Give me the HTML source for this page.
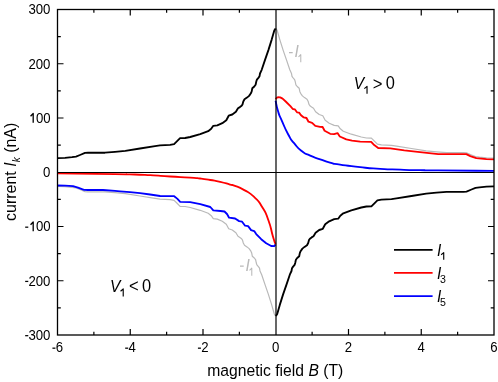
<!DOCTYPE html>
<html><head><meta charset="utf-8"><title>current vs magnetic field</title>
<style>html,body{margin:0;padding:0;background:#fff;}svg{display:block;}text{font-family:"Liberation Sans",sans-serif;fill:#000;}</style></head><body>
<svg width="498" height="382" viewBox="0 0 498 382">
<rect x="0" y="0" width="498" height="382" fill="#ffffff"/>
<g style="will-change:transform">
<path d="M275.9,28.4 L277.2,30.5 L279.8,39.6 L283.1,50.1 L286.3,59.4 L289.8,69.8 L291.5,73.5 L292.0,76.3 L292.9,77.6 L294.6,79.6 L295.2,81.5 L295.9,84.8 L297.2,86.5 L299.2,88.3 L299.8,91.4 L300.6,93.3 L302.4,95.9 L304.5,97.6 L307.0,99.3 L308.2,101.5 L309.0,104.4 L309.9,105.8 L311.6,107.1 L313.5,108.3 L315.6,111.7 L319.2,114.5 L322.8,115.7 L325.2,120.2 L329.2,123.2 L334.2,125.4 L338.2,125.8 L340.3,128.8 L343.3,131.2 L351.3,134.2 L361.3,137.0 L366.4,138.0 L371.4,138.2 L374.4,141.2 L377.4,144.1 L381.4,144.9 L391.5,145.3 L396.5,146.1 L411.5,148.5 L426.2,150.8 L436.5,151.8 L446.5,152.7 L456.5,152.7 L463.5,152.7 L466.5,152.9 L471.5,155.0 L475.5,156.6 L479.5,157.2 L486.5,157.8 L494.0,158.2" fill="none" stroke="#b9b9b9" stroke-width="1.2" stroke-linejoin="round"/>
<path d="M57.5,186.3 L65.0,186.7 L72.0,187.3 L76.0,187.9 L80.0,189.5 L85.0,191.6 L88.0,191.8 L95.0,191.8 L105.0,191.8 L115.0,192.7 L125.3,193.7 L140.0,196.0 L155.0,198.4 L160.0,199.2 L170.1,199.6 L174.1,200.4 L177.1,203.3 L180.1,206.3 L185.1,206.5 L190.2,207.5 L200.2,210.3 L208.2,213.3 L211.2,215.7 L213.3,218.7 L217.3,219.1 L222.3,221.3 L226.3,224.3 L228.7,228.8 L232.3,230.0 L235.9,232.8 L238.0,236.2 L239.9,237.4 L241.6,238.7 L242.5,240.1 L243.3,243.0 L244.5,245.2 L247.0,246.9 L249.1,248.6 L250.9,251.2 L251.7,253.1 L252.3,256.2 L254.3,258.0 L255.6,259.7 L256.3,263.0 L256.9,264.9 L258.6,266.9 L259.5,268.2 L260.0,271.0 L261.7,274.7 L265.2,285.1 L268.4,294.4 L271.7,304.9 L274.3,314.0 L275.6,316.1" fill="none" stroke="#b9b9b9" stroke-width="1.2" stroke-linejoin="round"/>
<path d="M275.6,100.7 C276.4,104.2 275.9,104.3 278.0,111.1 C280.1,117.9 278.6,113.4 282.0,121.1 C285.4,128.8 284.1,126.8 288.1,134.2 C292.1,141.6 289.4,137.5 294.1,143.2 C298.8,148.9 296.7,147.1 302.1,151.3 C307.5,155.5 304.2,153.0 310.2,155.7 C316.2,158.4 313.6,157.0 320.2,159.3 C326.8,161.6 323.4,160.8 330.0,162.6 C336.6,164.4 330.0,163.1 340.1,164.6 C350.2,166.1 346.8,165.8 360.2,167.2 C373.6,168.6 366.8,168.0 380.2,168.8 C393.6,169.6 387.0,169.2 400.3,169.7 C413.6,170.2 407.4,170.0 420.0,170.2 C432.6,170.4 413.3,170.2 438.0,170.4 C462.7,170.6 475.3,170.7 494.0,170.9" fill="none" stroke="#0000ff" stroke-width="1.85" stroke-linejoin="round"/>
<path d="M275.6,99.1 L276.8,97.8 L277.9,97.2 L280.2,97.4 L282.6,98.6 L285.7,101.5 L290.4,106.2 L292.8,109.0 L294.8,109.3 L297.0,112.3 L299.1,112.6 L301.0,115.2 L303.8,117.4 L306.5,118.0 L308.5,121.7 L312.1,122.8 L315.3,125.9 L320.0,126.9 L322.6,127.0 L324.6,130.8 L330.2,133.8 L334.1,134.1 L337.5,133.1 L339.8,136.5 L346.3,139.4 L352.0,140.6 L360.2,141.7 L371.2,141.9 L374.2,145.1 L378.2,148.0 L390.3,148.3 L404.3,150.4 L420.0,152.2 L438.2,154.1 L466.3,154.1 L470.3,156.1 L476.3,158.2 L486.4,159.2 L494.0,159.3" fill="none" stroke="#ff0000" stroke-width="1.85" stroke-linejoin="round"/>
<path d="M57.5,173.4 C76.7,173.7 91.0,173.9 115.2,174.2 C139.4,174.5 118.4,174.1 130.0,174.4 C141.6,174.7 136.7,174.5 150.1,175.2 C163.5,175.9 156.8,175.7 170.2,176.5 C183.6,177.3 180.2,177.0 190.2,177.7 C200.2,178.4 193.4,177.7 200.1,178.5 C206.8,179.3 203.6,178.9 210.3,180.0 C217.0,181.1 213.6,180.3 220.2,181.8 C226.8,183.3 225.3,183.3 230.0,184.6 C234.7,185.9 229.4,183.9 234.2,185.7 C239.0,187.5 237.6,186.3 244.3,190.1 C251.0,193.9 248.3,191.4 254.3,197.1 C260.3,202.8 257.6,199.5 262.3,207.2 C267.0,214.9 264.9,210.6 268.4,220.2 C271.9,229.8 270.4,227.8 272.8,235.9 C275.2,244.0 274.7,241.7 275.6,244.6" fill="none" stroke="#ff0000" stroke-width="1.85" stroke-linejoin="round"/>
<path d="M57.5,185.5 L65.0,185.6 L73.0,186.1 L78.0,187.6 L84.0,189.8 L88.0,190.0 L103.0,190.0 L115.0,190.8 L120.0,191.3 L130.0,192.1 L140.0,193.2 L150.1,194.5 L160.1,196.0 L174.2,196.2 L177.2,198.6 L180.2,201.8 L190.2,202.2 L200.3,204.2 L210.3,207.0 L213.3,210.4 L220.4,211.0 L224.5,211.5 L227.0,214.0 L229.1,217.7 L235.1,218.5 L239.1,221.1 L242.1,221.7 L245.1,225.7 L248.1,226.1 L251.1,230.1 L254.2,231.1 L256.2,234.1 L261.2,239.2 L266.2,243.2 L271.2,246.0 L274.2,246.2 L275.6,244.6" fill="none" stroke="#0000ff" stroke-width="1.85" stroke-linejoin="round"/>
<path d="M57.5,158.2 L65.0,157.8 L72.0,157.2 L76.0,156.6 L80.0,155.0 L85.0,152.9 L88.0,152.7 L95.0,152.7 L105.0,152.7 L115.0,151.8 L125.3,150.8 L140.0,148.5 L155.0,146.1 L160.0,145.3 L170.1,144.9 L174.1,144.1 L177.1,141.2 L180.1,138.2 L185.1,138.0 L190.2,137.0 L200.2,134.2 L208.2,131.2 L211.2,128.8 L213.3,125.8 L217.3,125.4 L222.3,123.2 L226.3,120.2 L228.7,115.7 L232.3,114.5 L235.9,111.7 L238.0,108.3 L239.9,107.1 L241.6,105.8 L242.5,104.4 L243.3,101.5 L244.5,99.3 L247.0,97.6 L249.1,95.9 L250.9,93.3 L251.7,91.4 L252.3,88.3 L254.3,86.5 L255.6,84.8 L256.3,81.5 L256.9,79.6 L258.6,77.6 L259.5,76.3 L260.0,73.5 L261.7,69.8 L265.2,59.4 L268.4,50.1 L271.7,39.6 L274.3,30.5 L275.6,28.4" fill="none" stroke="#000" stroke-width="1.85" stroke-linejoin="round"/>
<path d="M494.0,186.3 L486.5,186.7 L479.5,187.3 L475.5,187.9 L471.5,189.5 L466.5,191.6 L463.5,191.8 L456.5,191.8 L446.5,191.8 L436.5,192.7 L426.2,193.7 L411.5,196.0 L396.5,198.4 L391.5,199.2 L381.4,199.6 L377.4,200.4 L374.4,203.3 L371.4,206.3 L366.4,206.5 L361.3,207.5 L351.3,210.3 L343.3,213.3 L340.3,215.7 L338.2,218.7 L334.2,219.1 L329.2,221.3 L325.2,224.3 L322.8,228.8 L319.2,230.0 L315.6,232.8 L313.5,236.2 L311.6,237.4 L309.9,238.7 L309.0,240.1 L308.2,243.0 L307.0,245.2 L304.5,246.9 L302.4,248.6 L300.6,251.2 L299.8,253.1 L299.2,256.2 L297.2,258.0 L295.9,259.7 L295.2,263.0 L294.6,264.9 L292.9,266.9 L292.0,268.2 L291.5,271.0 L289.8,274.7 L286.3,285.1 L283.1,294.4 L279.8,304.9 L277.2,314.0 L275.9,316.1" fill="none" stroke="#000" stroke-width="1.85" stroke-linejoin="round"/>
<line x1="57.5" y1="172.5" x2="494.0" y2="172.5" stroke="#000" stroke-width="1.1"/>
<line x1="276" y1="9.5" x2="276" y2="335.0" stroke="#000" stroke-width="1.2"/>
<path d="M93.88,335.0 v-3.3 M93.88,9.5 v3.3 M130.25,335.0 v-6.0 M130.25,9.5 v6.0 M166.62,335.0 v-3.3 M166.62,9.5 v3.3 M203.00,335.0 v-6.0 M203.00,9.5 v6.0 M239.38,335.0 v-3.3 M239.38,9.5 v3.3 M312.12,335.0 v-3.3 M312.12,9.5 v3.3 M348.50,335.0 v-6.0 M348.50,9.5 v6.0 M384.88,335.0 v-3.3 M384.88,9.5 v3.3 M421.25,335.0 v-6.0 M421.25,9.5 v6.0 M457.62,335.0 v-3.3 M457.62,9.5 v3.3 M57.5,307.88 h3.3 M494.0,307.88 h-3.3 M57.5,280.75 h6.0 M494.0,280.75 h-6.0 M57.5,253.62 h3.3 M494.0,253.62 h-3.3 M57.5,226.50 h6.0 M494.0,226.50 h-6.0 M57.5,199.38 h3.3 M494.0,199.38 h-3.3 M57.5,145.12 h3.3 M494.0,145.12 h-3.3 M57.5,118.00 h6.0 M494.0,118.00 h-6.0 M57.5,90.88 h3.3 M494.0,90.88 h-3.3 M57.5,63.75 h6.0 M494.0,63.75 h-6.0 M57.5,36.62 h3.3 M494.0,36.62 h-3.3" fill="none" stroke="#000" stroke-width="1.2"/>
<rect x="57.5" y="9.5" width="436.5" height="325.5" fill="none" stroke="#000" stroke-width="1.3"/>
<text transform="translate(50.40,339.75) scale(1,1.07)" font-size="13.2" text-anchor="end">300</text>
<rect x="25.18" y="335.05" width="3.1" height="1.25" fill="#000"/>
<text transform="translate(50.40,285.50) scale(1,1.07)" font-size="13.2" text-anchor="end">200</text>
<rect x="25.18" y="280.80" width="3.1" height="1.25" fill="#000"/>
<text transform="translate(50.70,231.25) scale(1,1.07)" font-size="13.2" text-anchor="end">00</text>
<path d="M30.55,224.81 L33.20,221.95 L33.20,231.25" fill="none" stroke="#000" stroke-width="1.3" stroke-linejoin="round"/>
<rect x="25.18" y="226.55" width="3.1" height="1.25" fill="#000"/>
<text transform="translate(50.40,177.00) scale(1,1.07)" font-size="13.2" text-anchor="end">0</text>
<text transform="translate(50.70,122.75) scale(1,1.07)" font-size="13.2" text-anchor="end">00</text>
<path d="M30.55,116.31 L33.20,113.45 L33.20,122.75" fill="none" stroke="#000" stroke-width="1.3" stroke-linejoin="round"/>
<text transform="translate(50.40,68.50) scale(1,1.07)" font-size="13.2" text-anchor="end">200</text>
<text transform="translate(50.40,14.25) scale(1,1.07)" font-size="13.2" text-anchor="end">300</text>
<text transform="translate(59.50,352.10) scale(1,1.07)" font-size="13.2" text-anchor="middle">6</text>
<rect x="52.43" y="347.55" width="3.0" height="1.25" fill="#000"/>
<text transform="translate(132.25,352.10) scale(1,1.07)" font-size="13.2" text-anchor="middle">4</text>
<rect x="125.18" y="347.55" width="3.0" height="1.25" fill="#000"/>
<text transform="translate(205.00,352.10) scale(1,1.07)" font-size="13.2" text-anchor="middle">2</text>
<rect x="197.93" y="347.55" width="3.0" height="1.25" fill="#000"/>
<text transform="translate(275.75,352.10) scale(1,1.07)" font-size="13.2" text-anchor="middle">0</text>
<text transform="translate(348.50,352.10) scale(1,1.07)" font-size="13.2" text-anchor="middle">2</text>
<text transform="translate(421.25,352.10) scale(1,1.07)" font-size="13.2" text-anchor="middle">4</text>
<text transform="translate(494.00,352.10) scale(1,1.07)" font-size="13.2" text-anchor="middle">6</text>
<text transform="translate(207.2,376.3) scale(1,1.07)" font-size="15.7">magnetic field <tspan font-style="italic">B</tspan> (T)</text>
<text transform="translate(16.2,221) rotate(-90)" font-size="16">current <tspan font-style="italic">I</tspan><tspan font-style="italic" font-size="10" dy="3.5">k</tspan><tspan dy="-3.5"> (nA)</tspan></text>
<text transform="translate(353.80,88.90) scale(1,1.07)" font-size="15.6" font-style="italic">V</text>
<path d="M364.35,88.59 L367.03,86.35 L367.03,93.80" fill="none" stroke="#000" stroke-width="1.15" stroke-linejoin="round"/>
<text transform="translate(372.70,89.50) scale(1,1.07)" font-size="16.6">&gt;</text>
<text transform="translate(385.80,88.90) scale(1,1.07)" font-size="16.4">0</text>
<text transform="translate(110.00,291.50) scale(1,1.07)" font-size="15.6" font-style="italic">V</text>
<path d="M120.55,291.19 L123.22,288.95 L123.22,296.40" fill="none" stroke="#000" stroke-width="1.15" stroke-linejoin="round"/>
<text transform="translate(128.90,292.10) scale(1,1.07)" font-size="16.6">&lt;</text>
<text transform="translate(142.00,291.50) scale(1,1.07)" font-size="16.4">0</text>
<rect x="289.00" y="52.00" width="3.7" height="1.25" fill="#b9b9b9"/>
<text transform="translate(294.60,57.30) scale(1,1.07)" font-size="15.6" font-style="italic" style="fill:#b9b9b9">I</text>
<path d="M298.55,56.95 L300.78,54.65 L300.78,62.30" fill="none" stroke="#b9b9b9" stroke-width="1.05" stroke-linejoin="round"/>
<rect x="240.00" y="265.50" width="3.7" height="1.25" fill="#b9b9b9"/>
<text transform="translate(245.60,270.80) scale(1,1.07)" font-size="15.6" font-style="italic" style="fill:#b9b9b9">I</text>
<path d="M249.55,270.45 L251.78,268.15 L251.78,275.80" fill="none" stroke="#b9b9b9" stroke-width="1.05" stroke-linejoin="round"/>
<line x1="394" y1="249.9" x2="432.6" y2="249.9" stroke="#000" stroke-width="1.7"/>
<text transform="translate(437.10,255.80) scale(1,1.07)" font-size="15.4" font-style="italic">I</text>
<path d="M441.15,254.75 L443.72,252.65 L443.72,259.70" fill="none" stroke="#000" stroke-width="1.15" stroke-linejoin="round"/>
<line x1="394" y1="272.9" x2="432.6" y2="272.9" stroke="#ff0000" stroke-width="1.7"/>
<text transform="translate(437.10,278.80) scale(1,1.07)" font-size="15.4" font-style="italic">I</text>
<text transform="translate(440.00,282.90) scale(1,1.07)" font-size="10.6">3</text>
<line x1="394" y1="296.1" x2="432.6" y2="296.1" stroke="#0000ff" stroke-width="1.7"/>
<text transform="translate(437.10,302.00) scale(1,1.07)" font-size="15.4" font-style="italic">I</text>
<text transform="translate(440.00,306.10) scale(1,1.07)" font-size="10.6">5</text>
</g>
</svg></body></html>
